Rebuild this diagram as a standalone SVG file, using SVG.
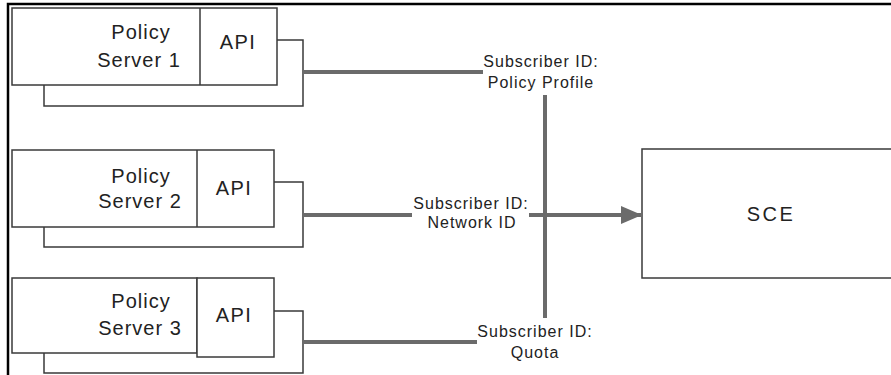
<svg xmlns="http://www.w3.org/2000/svg" width="891" height="375" viewBox="0 0 891 375">
  <style>
    .frame { stroke: #000; stroke-width: 2.5; fill: none; }
    .box { fill: #fff; stroke: #3a3a3a; stroke-width: 1.5; }
    .back { fill: none; stroke: #3a3a3a; stroke-width: 1.5; }
    .link { stroke: #6b6b6b; stroke-width: 4; fill: none; }
    .name { font-family: "Liberation Sans", Arial, sans-serif; font-size: 20px; letter-spacing: 1px; fill: #222; text-anchor: middle; }
    .api { font-family: "Liberation Sans", Arial, sans-serif; font-size: 20px; letter-spacing: 1.5px; fill: #222; text-anchor: middle; }
    .lbl { font-family: "Liberation Sans", Arial, sans-serif; font-size: 16px; letter-spacing: 1px; fill: #222; text-anchor: middle; }
    .sce { font-family: "Liberation Sans", Arial, sans-serif; font-size: 20px; letter-spacing: 2.5px; fill: #222; text-anchor: middle; }
  </style>
  <defs>
    <marker id="arrow" markerUnits="userSpaceOnUse" markerWidth="22" markerHeight="20" refX="21" refY="10" orient="auto">
      <path d="M0,1 L21,10 L0,19 Z" fill="#6b6b6b"/>
    </marker>
  </defs>

  <rect width="891" height="375" fill="#fff"/>
  <path class="frame" d="M8,375 V4 H891"/>

  <g id="server1">
    <path class="back" d="M44,85 V106 H303 V40 H277"/>
    <rect class="box" x="12" y="8" width="265" height="77"/>
    <line class="box" x1="200" y1="8" x2="200" y2="85"/>
    <text class="name" x="141" y="39">Policy</text>
    <text class="name" x="139" y="67">Server 1</text>
    <text class="api" x="238" y="49">API</text>
  </g>

  <g id="server2">
    <path class="back" d="M44,227 V247 H303 V182 H274"/>
    <rect class="box" x="12" y="150" width="262" height="77"/>
    <line class="box" x1="197" y1="150" x2="197" y2="227"/>
    <text class="name" x="141" y="183">Policy</text>
    <text class="name" x="140" y="208">Server 2</text>
    <text class="api" x="234" y="195">API</text>
  </g>

  <g id="server3">
    <path class="back" d="M44,353 V373 H303 V311 H274"/>
    <rect class="box" x="12" y="278" width="185" height="75"/>
    <rect class="box" x="197" y="278" width="77" height="79"/>
    <text class="name" x="141" y="308">Policy</text>
    <text class="name" x="140" y="335">Server 3</text>
    <text class="api" x="234" y="322">API</text>
  </g>

  <g id="sce">
    <rect class="box" x="642" y="149" width="260" height="129"/>
    <text class="sce" x="771" y="221">SCE</text>
  </g>

  <g id="connectors">
    <line class="link" x1="303" y1="72" x2="483" y2="72"/>
    <line class="link" x1="303" y1="215" x2="412" y2="215"/>
    <line class="link" x1="529" y1="215" x2="642" y2="215" marker-end="url(#arrow)"/>
    <line class="link" x1="303" y1="342" x2="477" y2="342"/>
    <line class="link" x1="545" y1="95" x2="545" y2="318"/>
    <text class="lbl" x="541" y="67">Subscriber ID:</text>
    <text class="lbl" x="541" y="88">Policy Profile</text>
    <text class="lbl" x="471" y="209">Subscriber ID:</text>
    <text class="lbl" x="472" y="228">Network ID</text>
    <text class="lbl" x="535" y="337">Subscriber ID:</text>
    <text class="lbl" x="535" y="358">Quota</text>
  </g>
</svg>
